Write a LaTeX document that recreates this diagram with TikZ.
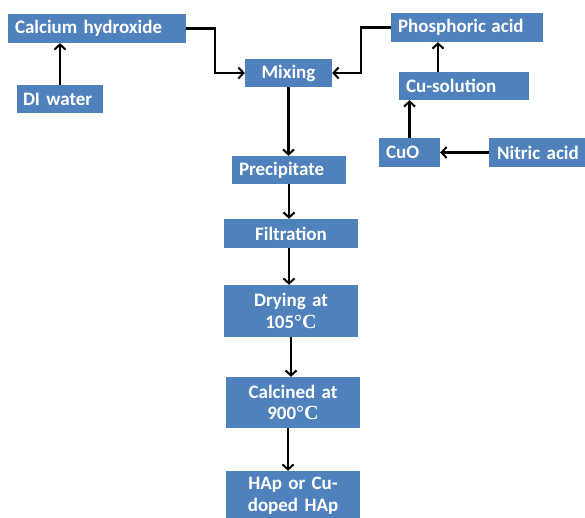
\documentclass[tikz,border=0pt]{standalone}
\usepackage{fontspec}
\setmainfont{Carlito}
\newfontfamily\degfont{Liberation Serif}
\usetikzlibrary{arrows.meta}
\definecolor{boxblue}{HTML}{4F81BD}
\tikzset{
  box/.style={fill=boxblue, text=white, font=\fontsize{19}{21.5}\selectfont\bfseries, inner sep=0pt, minimum height=#1, anchor=center},
  arr/.style={line width=2.4pt, -{Straight Barb[length=5pt,width=11pt,line width=2pt]}},
}
\newcommand{\degC}{{\degfont\fontsize{20}{21.5}\selectfont\bfseries°C}}
\begin{document}
\begin{tikzpicture}[x=1pt,y=-1pt]
\useasboundingbox[fill=white] (0,0) rectangle (585,518);
% top-left nodes
\node[box=29pt, minimum width=178pt, text width=164pt, align=left] (calc) at (97,28.5) {Calcium hydroxide};
\node[box=28pt, minimum width=86pt, text width=74pt, align=left] (di) at (60,99) {DI water};
\node[box=28pt, minimum width=87pt, text width=87pt, align=center] (mix) at (288.5,73) {Mixing};
\node[box=29pt, minimum width=152pt, text width=138pt, align=left] (phos) at (467,27.5) {Phosphoric\hspace{-1pt} acid};
\node[box=28pt, minimum width=130pt, text width=116pt, align=left] (cusol) at (464,86) {Cu-solution};
\node[box=29pt, minimum width=61pt, text width=47pt, align=left] (cuo) at (409.5,152.5) {CuO};
\node[box=29pt, minimum width=98pt, text width=98pt, align=center] (nitric) at (538,152.5) {Nitric acid};
% main column
\node[box=28pt, minimum width=114pt, text width=100pt, align=left] (precip) at (289,170) {Precipitate};
\node[box=29pt, minimum width=134pt, text width=134pt, align=center] (filt) at (291,233.5) {Filtration};
\node[box=52pt, minimum width=134pt, text width=134pt, align=center] (dry) at (291,311) {Drying at\\105\degC};
\node[box=51pt, minimum width=134pt, text width=134pt, align=center] (calcd) at (293,402.5) {Calcined at\\900\degC};
\node[box=50pt, minimum width=134pt, text width=134pt, align=center] (hap) at (293,496) {HAp or Cu-\\doped HAp};
% connectors
\coordinate (c1) at (215,28.5);
\coordinate (c2) at (361,27.5);
\draw[arr] (di.north) -- (di.north |- calc.south);
\draw[arr] (calc.east) -- (c1) |- (mix.west);
\draw[arr] (phos.west) -- (c2) |- (mix.east);
\draw[arr] ([xshift=-26pt]cusol.north) -- ([xshift=-26pt]cusol.north |- phos.south);
\draw[arr] (cuo.north) -- (cuo.north |- cusol.south);
\draw[arr] (nitric.west) -- (cuo.east);
\draw[arr] (mix.south) -- (mix.south |- precip.north);
\draw[arr] (precip.south) -- (precip.south |- filt.north);
\draw[arr] ([xshift=-2pt]filt.south) -- ([xshift=-2pt]filt.south |- dry.north);
\draw[arr] (dry.south) -- (dry.south |- calcd.north);
\draw[arr] ([xshift=-5pt]calcd.south) -- ([xshift=-5pt]calcd.south |- hap.north);
\end{tikzpicture}
\end{document}
